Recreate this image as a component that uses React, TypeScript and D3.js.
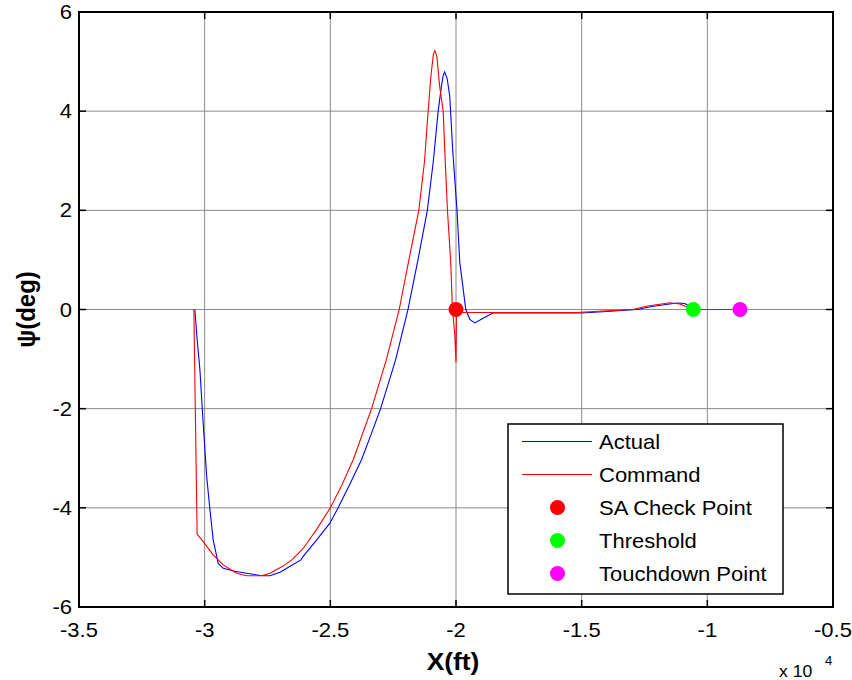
import React from "react";
import * as d3 from "d3";

// ---- data (x in feet, y in degrees) ----
const xTicks = [-35000, -30000, -25000, -20000, -15000, -10000, -5000];
const xTickLabels = ["-3.5", "-3", "-2.5", "-2", "-1.5", "-1", "-0.5"];
const yTicks = [-6, -4, -2, 0, 2, 4, 6];
const yTickLabels = ["-6", "-4", "-2", "0", "2", "4", "6"];

const actualX = [
  -30390, -30300, -30190, -30060, -29920, -29790, -29660, -29460, -29260, -28800, -28330,
  -27700, -27400, -27000, -26600, -26170, -26080, -25550, -25020, -24690, -24200, -23760,
  -23430, -23000, -22400, -21910, -21510, -21140, -20900, -20710, -20580, -20510, -20450, -20350,
  -20250, -20130, -19960, -19850, -19610, -19450, -19250, -18900, -18530, -15000, -14000,
  -12800, -12200, -11500, -11200, -10900, -10650, -10560, -8700,
];
const actualY = [
  0, -0.6, -1.21, -2.29, -3.37, -4.04, -4.65, -5.12, -5.22, -5.28, -5.32,
  -5.37, -5.37, -5.3, -5.18, -5.05, -4.98, -4.65, -4.31, -4.0, -3.5, -3.03,
  -2.59, -2.0, -1.01, 0, 1.01, 2.0, 3.0, 4.0, 4.5, 4.72, 4.79, 4.65,
  4.31, 3.2, 2.0, 0.95, 0, -0.2, -0.27, -0.17, -0.07, -0.07, -0.04,
  0.0, 0.06, 0.11, 0.13, 0.12, 0.05, 0, 0,
];

const commandX = [
  -30430, -30300, -30060, -29660, -29260, -28730, -28330, -27740, -27400, -26900, -26530,
  -26080, -25550, -25000, -24550, -24090, -23360, -22770, -22260, -21870, -21480, -21250,
  -21110, -21000, -20900, -20840, -20760, -20650, -20510, -20430, -20340, -20210, -20140,
  -20050, -20000, -19980, -15210, -14150, -12960, -12430, -11500, -11100, -10700, -10570, -8700,
];
const commandY = [
  0, -4.53, -4.68, -4.95, -5.15, -5.32, -5.37, -5.37, -5.32, -5.18, -5.05,
  -4.82, -4.44, -4.0, -3.55, -3.03, -2.0, -1.01, 0, 1.01, 2.0, 3.0,
  4.0, 4.7, 5.15, 5.22, 5.1, 4.5, 4.0, 3.0, 2.0, 0.95, 0,
  -0.5, -1.07, -0.06, -0.06, -0.03, 0.0, 0.067, 0.135, 0.11, 0.03, 0, 0,
];

const pointNames = ["SA Check Point", "Threshold", "Touchdown Point"];
const pointX = [-20000, -10560, -8700];
const pointY = [0, 0, 0];
const pointColors = ["#ff0000", "#00ff00", "#ff00ff"];

const lineNames = ["Actual", "Command"];
const lineColors = ["#0000ff", "#ff0000"];

// ---- layout ----
const W = 852;
const H = 680;
const L = 79;
const R = 833;
const T = 12;
const B = 607;
const FONT = "'Liberation Sans', Arial, sans-serif";
const SX = 1.1;

function SText(props: {
  x: number;
  y: number;
  anchor?: string;
  size: number;
  bold?: boolean;
  children: React.ReactNode;
}) {
  const { x, y, anchor = "start", size, bold, children } = props;
  return (
    <g transform={`translate(${x},${y}) scale(${SX},1)`}>
      <text
        x={0}
        y={0}
        textAnchor={anchor as any}
        fontFamily={FONT}
        fontSize={size}
        fontWeight={bold ? "bold" : "normal"}
        fill="#000"
      >
        {children}
      </text>
    </g>
  );
}

export default function App() {
  const x = d3.scaleLinear().domain([-35000, -5000]).range([L, R]);
  const y = d3.scaleLinear().domain([-6, 6]).range([B, T]);

  const line = d3
    .line<[number, number]>()
    .x((d) => x(d[0]))
    .y((d) => y(d[1]));

  const actual = actualX.map((v, i) => [v, actualY[i]] as [number, number]);
  const command = commandX.map((v, i) => [v, commandY[i]] as [number, number]);

  const tick = 7;
  const gridColor = "#8a8a8a";

  // legend
  const lgL = 508,
    lgT = 424,
    lgR = 783,
    lgB = 594;
  const rowY = (i: number) => 441.5 + i * 33;

  return (
    <svg
      width={W}
      height={H}
      style={{ position: "absolute", left: 0, top: 0, background: "#fff" }}
    >
      <rect x={0} y={0} width={W} height={H} fill="#fff" />
      {/* grid */}
      {xTicks.map((t) => (
        <line key={"gx" + t} x1={x(t)} x2={x(t)} y1={T} y2={B} stroke={gridColor} strokeWidth={1} />
      ))}
      {yTicks.map((t) => (
        <line key={"gy" + t} x1={L} x2={R} y1={y(t)} y2={y(t)} stroke={gridColor} strokeWidth={1} />
      ))}
      {/* ticks (inward, all four sides) */}
      {xTicks.map((t) => (
        <g key={"tx" + t}>
          <line x1={x(t)} x2={x(t)} y1={B} y2={B - tick} stroke="#000" strokeWidth={1.5} />
          <line x1={x(t)} x2={x(t)} y1={T} y2={T + tick} stroke="#000" strokeWidth={1.5} />
        </g>
      ))}
      {yTicks.map((t) => (
        <g key={"ty" + t}>
          <line x1={L} x2={L + tick} y1={y(t)} y2={y(t)} stroke="#000" strokeWidth={1.5} />
          <line x1={R} x2={R - tick} y1={y(t)} y2={y(t)} stroke="#000" strokeWidth={1.5} />
        </g>
      ))}
      {/* data lines */}
      <path d={line(actual) || ""} fill="none" stroke={lineColors[0]} strokeWidth={1.1} />
      <path d={line(command) || ""} fill="none" stroke={lineColors[1]} strokeWidth={1.1} />
      {/* points */}
      {pointX.map((px, i) => (
        <circle key={"p" + i} cx={x(px)} cy={y(pointY[i])} r={7.5} fill={pointColors[i]} />
      ))}
      {/* axes box */}
      <rect x={L} y={T} width={R - L} height={B - T} fill="none" stroke="#000" strokeWidth={2} />
      {/* tick labels */}
      {xTicks.map((t, i) => (
        <SText key={"xl" + t} x={x(t)} y={637} anchor="middle" size={20}>
          {xTickLabels[i]}
        </SText>
      ))}
      {yTicks.map((t, i) => (
        <SText key={"yl" + t} x={72} y={y(t) + 7} anchor="end" size={20}>
          {yTickLabels[i]}
        </SText>
      ))}
      {/* axis labels */}
      <SText x={453} y={670} anchor="middle" size={24} bold>
        X(ft)
      </SText>
      <g transform={`translate(35,${y(0)}) rotate(-90)`}>
        <text
          x={0}
          y={0}
          textAnchor="middle"
          fontFamily={FONT}
          fontSize={24}
          fontWeight="bold"
          transform={`scale(1,${SX})`}
        >
          ψ(deg)
        </text>
      </g>
      <SText x={779} y={677} size={16}>
        x 10
      </SText>
      <SText x={825} y={665} size={12}>
        4
      </SText>
      {/* legend */}
      <rect x={lgL} y={lgT} width={lgR - lgL} height={lgB - lgT} fill="#fff" stroke="#000" strokeWidth={1.5} />
      {lineNames.map((n, i) => (
        <g key={"ll" + n}>
          <line x1={522} x2={592} y1={rowY(i)} y2={rowY(i)} stroke={lineColors[i]} strokeWidth={1.1} />
          <SText x={599} y={rowY(i) + 7} size={20}>
            {n}
          </SText>
        </g>
      ))}
      {pointNames.map((n, i) => (
        <g key={"lp" + n}>
          <circle cx={557.5} cy={rowY(i + 2)} r={7.5} fill={pointColors[i]} />
          <SText x={599} y={rowY(i + 2) + 7} size={20}>
            {n}
          </SText>
        </g>
      ))}
    </svg>
  );
}
